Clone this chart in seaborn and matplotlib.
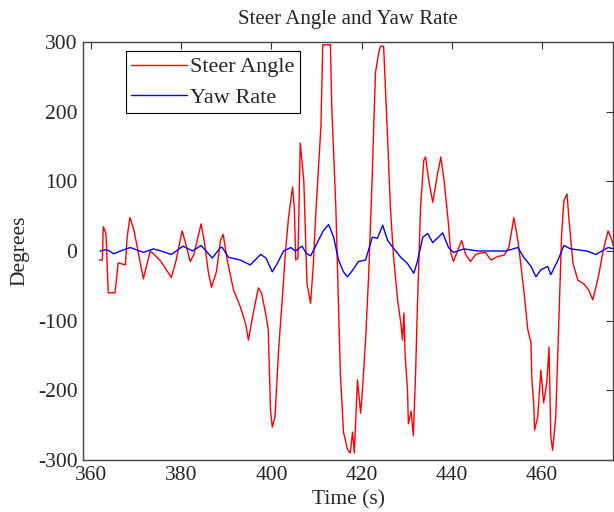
import matplotlib
matplotlib.use("Agg")
import matplotlib.pyplot as plt
import seaborn as sns
import pandas as pd

steer_t = [361.8, 362.5, 362.7, 363.3, 363.8, 365.3, 366.0, 367.6, 368.0, 368.6, 369.5, 370.1,
           371.6, 373.1, 374.0, 375.5, 376.8, 377.8, 378.8, 380.2, 381.0, 382.0, 382.8, 384.4,
           385.2, 386.0, 386.7, 387.8, 388.7, 389.3, 390.2, 391.6, 393.1, 394.3, 394.9, 395.8,
           397.1, 397.8, 398.7, 399.3, 399.8, 400.2, 400.8, 401.6, 402.4, 403.1, 403.8, 404.7,
           405.1, 405.4, 405.9, 406.4, 407.2, 407.9, 408.7, 409.3, 409.8, 410.4, 411.0, 411.4,
           413.1, 413.4, 414.3, 414.9, 415.3, 415.7, 416.0, 416.9, 417.5, 418.0, 418.4, 419.1,
           419.8, 420.2, 420.9, 421.6, 422.4, 422.8, 423.1, 423.8, 424.2, 424.9, 425.8, 426.4,
           427.1, 428.0, 428.7, 429.1, 429.4, 429.7, 430.2, 430.4, 431.0, 431.5, 432.0, 432.4,
           433.1, 433.8, 434.2, 434.9, 435.8, 436.9, 437.6, 438.3, 439.2, 439.8, 440.4, 441.3,
           442.2, 443.1, 444.2, 445.3, 446.4, 447.5, 448.7, 450.2, 451.6, 452.7, 453.8, 454.7,
           455.3, 456.0, 456.9, 457.6, 457.8, 458.2, 458.4, 459.1, 459.8, 460.4, 461.1, 461.6,
           462.0, 462.4, 463.1, 463.8, 464.4, 464.9, 465.6, 466.0, 466.9, 468.0, 469.3, 470.4,
           471.3, 472.0, 472.7, 473.6, 474.7, 475.3, 476.0]
steer_v = [-13, -13, 35, 25, -60, -60, -17, -20, 20, 48, 30, 10,
           -40, 0, -5, -15, -28, -38, -15, 29, 10, -15, -5, 39,
           10, -30, -52, -30, 15, 24, -13, -56, -80, -105, -128, -95,
           -53, -60, -89, -113, -228, -253, -238, -142, -70, -3, 48, 92,
           60, -13, -10, 155, 100, -47, -75, -20, 48, 115, 180, 296,
           296, 206, 63, -80, -175, -223, -260, -285, -290, -260, -290, -185,
           -233, -200, -128, -32, 112, 198, 256, 284, 294, 294, 160, 63,
           -8, -70, -103, -128, -89, -152, -200, -248, -230, -265, -175, -80,
           63, 130, 135, 102, 70, 112, 135, 102, 45, -3, -15, 0,
           15, -5, -15, -5, -3, -2, -13, -8, -6, 5, 48, 15,
           -17, -56, -113, -132, -185, -218, -257, -238, -171, -218, -190, -138,
           -267, -286, -238, -95, 24, 72, 82, 48, -17, -42, -47, -56,
           -70, -52, -32, 0, 29, 20, 5]

yaw_t = [362.0, 363.5, 365.0, 366.5, 368.7, 371.6, 373.8, 375.5, 377.8, 380.4, 382.5, 384.4,
         386.9, 388.7, 389.1, 390.5, 393.1, 395.3, 397.6, 398.8, 400.2, 401.3, 402.7, 404.3,
         405.3, 406.8, 407.7, 408.7, 410.2, 411.5, 412.7, 413.8, 414.9, 416.0, 416.9, 418.1,
         419.3, 420.9, 422.4, 423.5, 424.7, 425.8, 427.1, 428.7, 430.2, 431.6, 432.4, 433.6,
         434.7, 435.8, 438.0, 439.3, 440.4, 442.7, 445.8, 449.0, 452.0, 454.7, 456.0, 457.6,
         458.7, 459.8, 461.3, 462.0, 463.6, 464.9, 466.4, 470.0, 472.0, 474.7, 476.0]
yaw_v = [0, 2, -4, 0, 5, -2, 3, 0, -5, 7, 0, 8,
         -10, 5, 5, -9, -13, -20, -5, -10, -30, -18, 0, 5,
         0, 7, -3, -7, 12, 29, 38, 20, -13, -30, -37, -27,
         -15, -13, 20, 18, 37, 15, 4, -9, -18, -32, -15, 20,
         25, 12, 26, 5, -2, 3, 0, 0, 0, 5, -9, -22,
         -37, -27, -22, -34, -13, 8, 3, 0, -5, 5, 3]

x_ticks = [360, 380, 400, 420, 440, 460]
y_ticks = [-300, -200, -100, 0, 100, 200, 300]

sns.set_style("white")
plt.rcParams['font.family'] = ['Liberation Serif', 'DejaVu Serif']
plt.rcParams['axes.unicode_minus'] = False

df_s = pd.DataFrame({"t": steer_t, "v": steer_v})
df_y = pd.DataFrame({"t": yaw_t, "v": yaw_v})

fig = plt.figure(figsize=(6.14, 5.12), dpi=100)
ax = fig.add_axes([83 / 614, 52 / 512, 530 / 614, 418 / 512])
sns.lineplot(data=df_s, x="t", y="v", ax=ax, color="#ff0000", linewidth=1.0,
             label="Steer Angle", estimator=None, sort=False)
sns.lineplot(data=df_y, x="t", y="v", ax=ax, color="#0000ff", linewidth=1.0,
             label="Yaw Rate", estimator=None, sort=False)

ax.set_xlim(358.2, 475.8)
ax.set_ylim(-300, 300)
ax.set_xticks(x_ticks)
ax.set_yticks(y_ticks)
ax.tick_params(direction="in", length=5, width=0.8, labelsize=15.5, color="#333333",
               top=True, right=True, pad=4)
for s in ax.spines.values():
    s.set_visible(True)
    s.set_color("#444444")
    s.set_linewidth(1.0)

ax.set_title("Steer Angle and Yaw Rate", fontsize=15, pad=13)
ax.set_xlabel("Time (s)", fontsize=15.5, labelpad=4)
ax.set_ylabel("Degrees", fontsize=15.5, labelpad=6)

leg = ax.legend(loc="upper left", bbox_to_anchor=(0.081, 0.978), fontsize=16,
                frameon=True, fancybox=False, edgecolor="black", framealpha=1,
                handlelength=2.5, handletextpad=0.15, borderpad=0.25, labelspacing=0.45,
                borderaxespad=0)
leg.get_frame().set_linewidth(0.8)

fig.savefig("out.png", dpi=100)
